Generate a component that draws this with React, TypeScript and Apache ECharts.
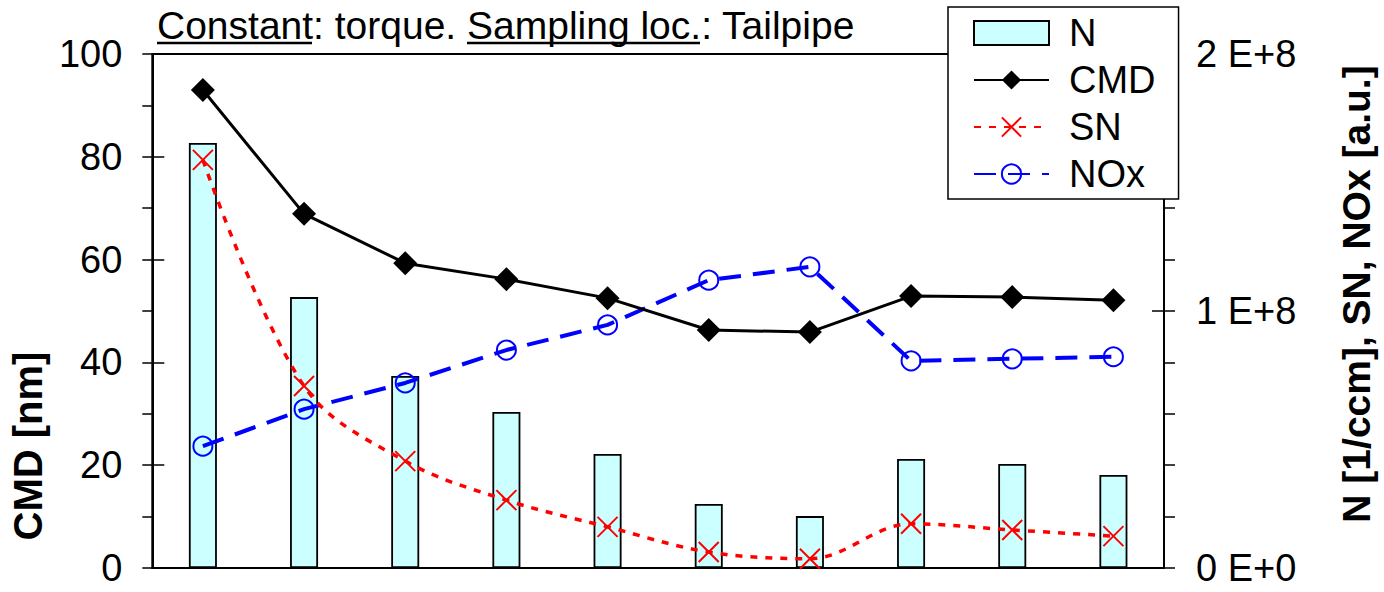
import React, { useEffect, useRef } from "react";
import * as echarts from "echarts";

const categories = ["1", "2", "3", "4", "5", "6", "7", "8", "9", "10"];
const nValues = [1.654e8, 1.054e8, 0.747e8, 0.607e8, 0.444e8, 0.249e8, 0.202e8, 0.424e8, 0.405e8, 0.362e8];
const cmdValues = [93.0, 68.9, 59.3, 56.2, 52.5, 46.3, 45.9, 52.9, 52.7, 52.1];
const snValues = [79.4, 35.4, 20.8, 13.2, 8.0, 3.1, 1.8, 8.6, 7.4, 6.2];
const noxValues = [23.7, 30.9, 36.0, 42.4, 47.3, 56.0, 58.6, 40.3, 40.7, 41.1];
const titleText = "Constant: torque. Sampling loc.: Tailpipe";

const FONT = "'Liberation Sans', Arial, sans-serif";

export default function App() {
  const ref = useRef<HTMLDivElement>(null);
  useEffect(() => {
    if (!ref.current) return;
    const chart = echarts.init(ref.current, null, { renderer: "svg" });
    const tickLabel = { fontSize: 38, color: "#000", fontFamily: FONT };
    chart.setOption({
      animation: false,
      backgroundColor: "#fff",
      textStyle: { fontFamily: FONT },
      title: {
        text: titleText,
        left: 157,
        top: 6,
        padding: 0,
        textStyle: { fontSize: 39, fontWeight: "normal", color: "#000", fontFamily: FONT },
      },
      graphic: [
        { type: "line", shape: { x1: 157, y1: 43, x2: 312, y2: 43 }, style: { stroke: "#000", lineWidth: 2.5 } },
        { type: "line", shape: { x1: 467, y1: 43, x2: 700, y2: 43 }, style: { stroke: "#000", lineWidth: 2.5 } },
      ],
      legend: {
        left: 948,
        top: 7,
        orient: "vertical",
        data: [{ name: "N", icon: "rect" }, "CMD", "SN", "NOx"],
        itemWidth: 75,
        itemHeight: 24,
        itemGap: 9,
        padding: [7, 23, 6, 25],
        borderColor: "#000",
        borderWidth: 1.5,
        backgroundColor: "#fff",
        textStyle: { fontSize: 38, color: "#000", fontFamily: FONT, padding: [0, 0, 0, 15] },
      },
      grid: { left: 148, right: 215, top: 54, bottom: 24, show: true, borderColor: "#000", borderWidth: 2, backgroundColor: "transparent" },
      xAxis: {
        type: "category",
        data: categories,
        boundaryGap: true,
        axisLine: { lineStyle: { color: "#000", width: 2 } },
        axisTick: { show: false },
        axisLabel: { show: false },
      },
      yAxis: [
        {
          type: "value",
          position: "left",
          min: 0,
          max: 100,
          interval: 10,
          name: "CMD [nm]",
          nameLocation: "middle",
          nameRotate: 90,
          nameGap: 95,
          nameTextStyle: { fontSize: 40, fontWeight: "bold", color: "#000", fontFamily: FONT, padding: [0, 270, 0, 0] },
          axisLine: { show: true, lineStyle: { color: "#000", width: 2 } },
          axisTick: { show: true, length: 10, lineStyle: { color: "#000", width: 1.5 } },
          axisLabel: { ...tickLabel, margin: 30, formatter: (v: number) => (Math.round(v) % 20 === 0 ? String(Math.round(v)) : "") },
          splitLine: { show: false },
        },
        {
          type: "value",
          position: "right",
          min: 0,
          max: 2e8,
          interval: 2e7,
          name: "N [1/ccm], SN, NOx [a.u.]",
          nameLocation: "middle",
          nameRotate: 90,
          nameGap: 173,
          nameTextStyle: { fontSize: 39, fontWeight: "bold", color: "#000", fontFamily: FONT, padding: [0, 0, 0, 34] },
          axisLine: { show: true, lineStyle: { color: "#000", width: 2 } },
          axisTick: { show: true, length: 11, lineStyle: { color: "#000", width: 1.5 } },
          axisLabel: {
            ...tickLabel,
            margin: 32,
            formatter: (v: number) => {
              const k = v / 1e8;
              if (Math.abs(k - Math.round(k)) > 1e-6) return "";
              return Math.round(k) === 0 ? "0 E+0" : `${Math.round(k)} E+8`;
            },
          },
          splitLine: { show: false },
        },
        {
          type: "value",
          position: "left",
          min: 0,
          max: 100,
          interval: 20,
          axisLine: { show: false },
          axisTick: { show: true, inside: true, length: 12, lineStyle: { color: "#000", width: 1.5 } },
          axisLabel: { show: false },
          splitLine: { show: false },
        },
        {
          type: "value",
          position: "right",
          min: 0,
          max: 2e8,
          interval: 1e8,
          axisLine: { show: false },
          axisTick: { show: true, inside: true, length: 12, lineStyle: { color: "#000", width: 1.5 } },
          axisLabel: { show: false },
          splitLine: { show: false },
        },
      ],
      series: [
        {
          name: "N",
          type: "bar",
          yAxisIndex: 1,
          data: nValues,
          barWidth: 28,
          itemStyle: { color: "#ccffff", borderColor: "#000", borderWidth: 1.8 },
          z: 1,
        },
        {
          name: "NOx",
          type: "line",
          yAxisIndex: 0,
          data: noxValues,
          symbol: "circle",
          symbolSize: 19,
          lineStyle: { color: "#0000ff", width: 4, type: [22, 12] },
          itemStyle: { color: "transparent", borderColor: "#0000ff", borderWidth: 2 },
          z: 3,
        },
        {
          name: "SN",
          type: "line",
          yAxisIndex: 0,
          data: snValues,
          smooth: 0.35,
          symbol: "path://M0 0L20 20M20 0L0 20",
          symbolSize: 20,
          lineStyle: { color: "#ff0000", width: 3.5, type: [7, 8] },
          itemStyle: { color: "transparent", borderColor: "#ff0000", borderWidth: 2 },
          z: 4,
        },
        {
          name: "CMD",
          type: "line",
          yAxisIndex: 0,
          data: cmdValues,
          symbol: "diamond",
          symbolSize: 24,
          lineStyle: { color: "#000", width: 3 },
          itemStyle: { color: "#000" },
          z: 5,
        },
      ],
    });
    return () => chart.dispose();
  }, []);
  return <div ref={ref} style={{ width: 1384, height: 592, position: "absolute", left: 0, top: 0 }} />;
}
